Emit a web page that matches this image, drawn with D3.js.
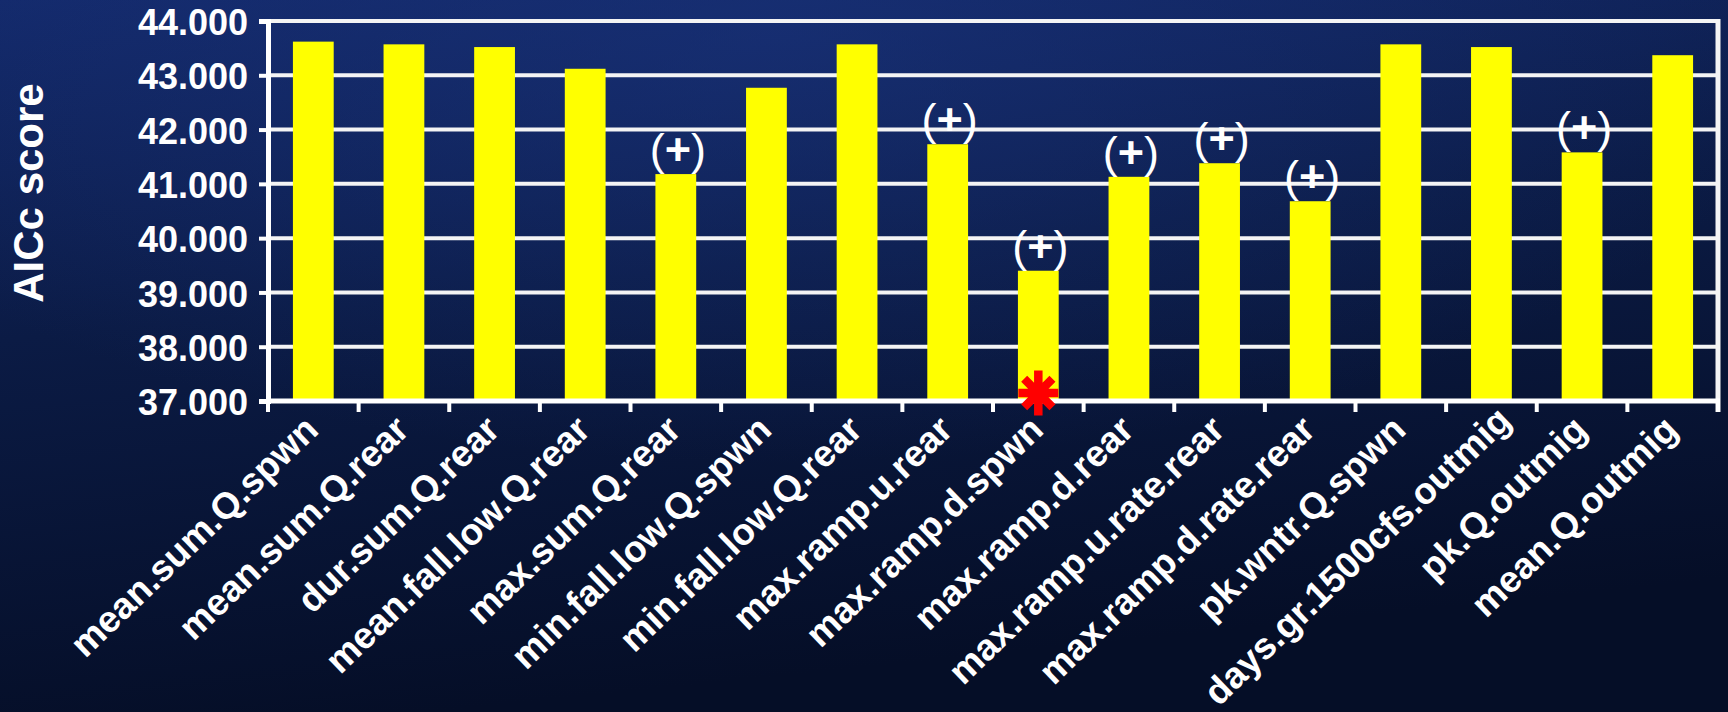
<!DOCTYPE html>
<html>
<head>
<meta charset="utf-8">
<script src="https://cdn.jsdelivr.net/npm/d3@7"></script>
<style>
  html, body { margin: 0; padding: 0; overflow: hidden; background: #08142f; }
  svg { display: block; }
  text { font-family: "Liberation Sans", Arial, sans-serif; font-weight: bold; fill: #ffffff; }
</style>
</head>
<body>
<svg></svg>
<script>
const width = 1728;
const height = 712;

// chart values
const categories = [
	"mean.sum.Q.spwn", "mean.sum.Q.rear", "dur.sum.Q.rear", "mean.fall.low.Q.rear",
	"max.sum.Q.rear", "min.fall.low.Q.spwn", "min.fall.low.Q.rear", "max.ramp.u.rear",
	"max.ramp.d.spwn", "max.ramp.d.rear", "max.ramp.u.rate.rear", "max.ramp.d.rate.rear",
	"pk.wntr.Q.spwn", "days.gr.1500cfs.outmig", "pk.Q.outmig", "mean.Q.outmig"
];
const aiccScores = [43.62, 43.57, 43.52, 43.12, 41.18, 42.77, 43.57, 41.73,
	39.40, 41.13, 41.38, 40.68, 43.57, 43.52, 41.58, 43.37];
const effectMarks = ["", "", "", "", "+", "", "", "+",
	"+", "+", "+", "+", "", "", "+", ""];
const bestModel = "max.ramp.d.spwn";
const yTicks = [37, 38, 39, 40, 41, 42, 43, 44];
const yTitle = "AICc score";

const margin = {top: 21, right: 10, bottom: 311, left: 268};
const labelAngle = 44;

const svg = d3.select("svg").attr("width", width).attr("height", height);

// background
const defs = svg.append("defs");
const bg = defs.append("linearGradient")
	.attr("id", "bg")
	.attr("x1", 0).attr("y1", 0).attr("x2", 0.25).attr("y2", 1);
bg.append("stop").attr("offset", "0%").attr("stop-color", "#13296a");
bg.append("stop").attr("offset", "45%").attr("stop-color", "#0b1b45");
bg.append("stop").attr("offset", "100%").attr("stop-color", "#050e27");
const glow = defs.append("radialGradient")
	.attr("id", "glow")
	.attr("cx", 0.45).attr("cy", 0.05).attr("r", 0.6);
glow.append("stop").attr("offset", "0%").attr("stop-color", "#1b3580").attr("stop-opacity", 0.55);
glow.append("stop").attr("offset", "100%").attr("stop-color", "#1b3580").attr("stop-opacity", 0);

svg.append("rect").attr("width", width).attr("height", height).attr("fill", "url(#bg)");
svg.append("rect").attr("width", width).attr("height", height).attr("fill", "url(#glow)");

const x = d3.scaleBand()
	.domain(categories)
	.range([margin.left, width - margin.right])
	.paddingInner(0.55)
	.paddingOuter(0.275);

const y = d3.scaleLinear()
	.domain([37, 44])
	.range([height - margin.bottom, margin.top]);

// grid
svg.append("g")
	.selectAll("line")
	.data(yTicks)
	.join("line")
	.attr("x1", margin.left)
	.attr("x2", width - margin.right)
	.attr("y1", d => y(d))
	.attr("y2", d => y(d))
	.attr("stroke", "#f4f4f4")
	.attr("stroke-width", 4);

// right border
svg.append("line")
	.attr("x1", width - margin.right).attr("x2", width - margin.right)
	.attr("y1", y(44) - 2).attr("y2", y(37) + 11)
	.attr("stroke", "#f4f4f4")
	.attr("stroke-width", 5);

// bars
svg.append("g")
	.selectAll("rect")
	.data(categories)
	.join("rect")
	.attr("x", d => x(d))
	.attr("width", x.bandwidth())
	.attr("y", (d, i) => y(aiccScores[i]))
	.attr("height", (d, i) => y(37) - y(aiccScores[i]))
	.attr("fill", "#ffff00");

// y axis
const yAxis = svg.append("g")
	.attr("transform", `translate(${margin.left},0)`)
	.call(d3.axisLeft(y).tickValues(yTicks).tickFormat(d3.format(".3f")).tickSize(9).tickPadding(11));
yAxis.select(".domain").attr("stroke", "#ffffff").attr("stroke-width", 5);
yAxis.selectAll(".tick line").attr("stroke", "#ffffff").attr("stroke-width", 4);
yAxis.selectAll(".tick text")
	.attr("font-size", 36)
	.attr("fill", "#ffffff")
	.attr("dy", "0.38em")
	.attr("font-family", "Liberation Sans, Arial, sans-serif");

// x axis: ticks on band boundaries
const xAxis = svg.append("g")
	.attr("transform", `translate(0,${y(37)})`);
xAxis.append("line")
	.attr("x1", margin.left - 2)
	.attr("x2", width - margin.right + 2)
	.attr("stroke", "#ffffff")
	.attr("stroke-width", 5);
const bounds = categories.map(d => x(d) - x.step() * x.paddingInner() / 2);
bounds.push(width - margin.right);
xAxis.selectAll(".btick")
	.data(bounds)
	.join("line")
	.attr("class", "btick")
	.attr("x1", d => d).attr("x2", d => d)
	.attr("y1", 0).attr("y2", 11)
	.attr("stroke", "#ffffff")
	.attr("stroke-width", 4);

// rotated category labels; a label that would run off the bottom slides up along its slope
const rad = labelAngle * Math.PI / 180;
const labelBottom = height - 14 - y(37);
xAxis.selectAll(".xlabel")
	.data(categories)
	.join("text")
	.attr("class", "xlabel")
	.attr("text-anchor", "end")
	.attr("font-size", 37)
	.text(d => d)
	.each(function(d) {
		const len = this.getComputedTextLength();
		let px = x(d) + x.bandwidth() / 2 + 7;
		let py = 31;
		const over = py + len * Math.sin(rad) - labelBottom;
		if (over > 0) {
			px += over * 0.8;
			py -= over * 0.5;
		}
		d3.select(this).attr("transform", `translate(${px},${py}) rotate(${-labelAngle})`);
	});

// (+) labels: thin parentheses, bold plus
const marks = svg.append("g")
	.selectAll("text")
	.data(categories.filter((d, i) => effectMarks[i] !== ""))
	.join("text")
	.attr("text-anchor", "middle")
	.attr("font-size", 45)
	.attr("x", d => x(d) + x.bandwidth() / 2 + 2)
	.attr("y", d => y(aiccScores[categories.indexOf(d)]) - 9);
marks.append("tspan").attr("font-weight", "normal").text("(");
marks.append("tspan").attr("font-weight", "bold").text(d => effectMarks[categories.indexOf(d)]);
marks.append("tspan").attr("font-weight", "normal").text(")");

// 8-armed asterisk marking the best model
const asterisk8 = {
	draw(context, size) {
		const r = Math.sqrt(size) / 2;
		const s = r * Math.SQRT1_2;
		context.moveTo(0, -r * 1.12); context.lineTo(0, r * 1.12);
		context.moveTo(-r, 0); context.lineTo(r, 0);
		context.moveTo(-s, -s); context.lineTo(s, s);
		context.moveTo(-s, s); context.lineTo(s, -s);
	}
};
svg.append("path")
	.attr("d", d3.symbol().type(asterisk8).size(1600)())
	.attr("transform", `translate(${x(bestModel) + x.bandwidth() / 2},${y(37) - 8})`)
	.attr("fill", "none")
	.attr("stroke", "#ff0000")
	.attr("stroke-width", 8.5);

// y title
svg.append("text")
	.attr("text-anchor", "middle")
	.attr("font-size", 42)
	.attr("transform", `translate(43,193) rotate(-90)`)
	.text(yTitle);
</script>
</body>
</html>
